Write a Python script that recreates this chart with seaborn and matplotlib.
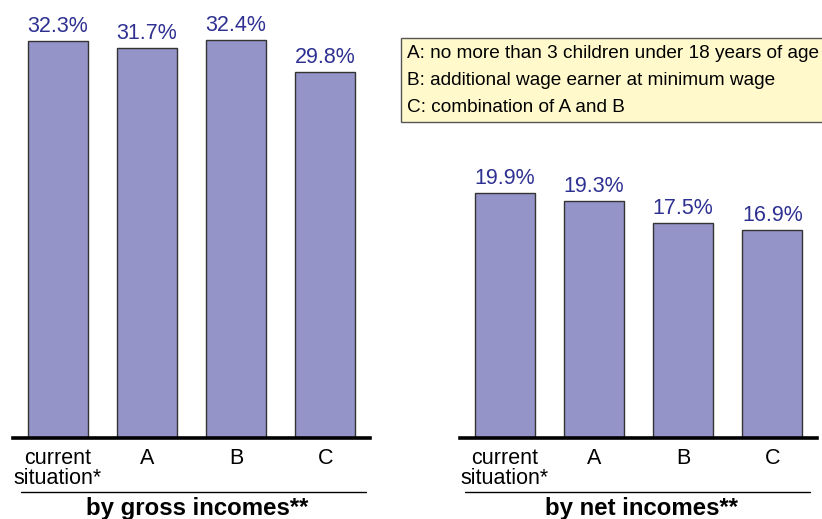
import matplotlib
matplotlib.use("Agg")
import matplotlib.pyplot as plt
from matplotlib.patches import Rectangle
from matplotlib.lines import Line2D
import seaborn as sns
import pandas as pd

categories = ["current\nsituation*", "A", "B", "C"]
gross_values = [32.3, 31.7, 32.4, 29.8]
net_values = [19.9, 19.3, 17.5, 16.9]
panel_titles = ["by gross incomes**", "by net incomes**"]
legend_lines = [
    "A: no more than 3 children under 18 years of age",
    "B: additional wage earner at minimum wage",
    "C: combination of A and B",
]

sns.set_theme(style="white")
plt.rcParams["font.family"] = ["Liberation Sans", "DejaVu Sans"]

W, H = 822, 519
fig = plt.figure(figsize=(W / 100, H / 100), dpi=100)

BAR_COLOR = "#9494C8"
LABEL_COLOR = "#2E3192"
YMAX = 438 / 12.29

def px(x, y):
    return x / W, 1 - y / H

panels = [
    (13, gross_values, panel_titles[0], 197, (21, 366)),
    (460, net_values, panel_titles[1], 641, (465, 810)),
]

for x0, values, title, title_x, (ux0, ux1) in panels:
    ax = fig.add_axes([x0 / W, (H - 438) / H, 357 / W, 438 / H])
    df = pd.DataFrame({"category": categories, "value": values})
    sns.barplot(data=df, x="category", y="value", ax=ax, color=BAR_COLOR,
                saturation=1, width=0.67, edgecolor="#333333", linewidth=1.0)
    ax.set_xlim(-0.5, 3.5)
    ax.set_ylim(0, YMAX)
    ax.set_xlabel("")
    ax.set_ylabel("")
    ax.set_yticks([])
    for s in ["top", "left", "right"]:
        ax.spines[s].set_visible(False)
    ax.spines["bottom"].set_linewidth(2.6)
    ax.spines["bottom"].set_color("black")
    ax.tick_params(axis="x", length=0, pad=7)
    ax.set_xticks(range(len(categories)))
    ax.set_xticklabels(categories, fontsize=15.5, linespacing=0.95, color="black")
    ax.patch.set_alpha(0)
    ax.bar_label(ax.containers[0], fmt="%.1f%%", padding=3,
                 color=LABEL_COLOR, fontsize=15.5)

    tx, ty = px(title_x, 508)
    fig.text(tx, ty, title, ha="center", va="center", fontsize=17.3,
             fontweight="bold", color="black")
    a, yy = px(ux0, 492)
    b, _ = px(ux1, 492)
    fig.add_artist(Line2D([a, b], [yy, yy], color="black", linewidth=1.0,
                          transform=fig.transFigure))

# legend box describing the scenarios
bx, by_top = px(400.5, 38)
_, by_bot = px(400.5, 122)
fig.add_artist(Rectangle((bx, by_bot), 1.0, by_top - by_bot,
                         transform=fig.transFigure, facecolor="#FFF9CC",
                         edgecolor="#555555", linewidth=1.0, clip_on=True))
for line, base in zip(legend_lines, [58, 85, 112]):
    lx, ly = px(407, base)
    fig.text(lx, ly, line, ha="left", va="baseline", fontsize=13.7, color="black")

fig.savefig("out.png", dpi=100)
